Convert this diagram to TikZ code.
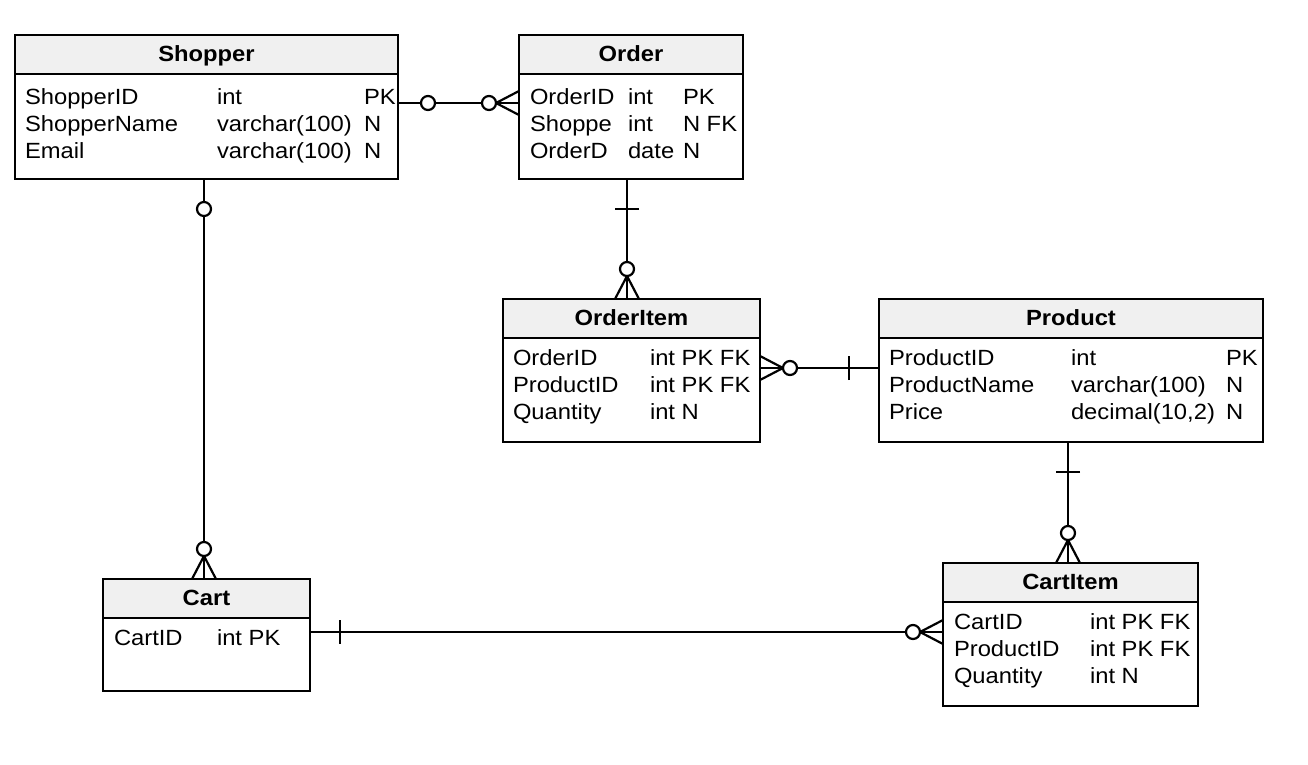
\documentclass[tikz,border=0pt]{standalone}
\usepackage{fontspec}
\setmainfont{Liberation Sans}[FakeStretch=1.08]
\usetikzlibrary{calc}
\tikzset{
  tbl/.style={draw, line width=2.5pt, fill=white, inner sep=0pt, outer sep=0pt, anchor=north west},
  hdrbox/.style={draw, line width=2.5pt, fill=gray!12},
  fld/.style={inner sep=0pt, outer sep=0pt, anchor=base west, font=\fontsize{22}{26}\selectfont},
  ttl/.style={inner sep=0pt, outer sep=0pt, anchor=base, font=\fontsize{22}{26}\selectfont\bfseries},
  conn/.style={line width=2.2pt},
}
\newcommand{\crowmark}[2]{\begin{scope}[shift={(#1)}, rotate=#2]
  \draw[conn] (0,-12) -- (23,0) -- (0,12);
  \draw[conn, fill=white] (30,0) circle[radius=7pt];
\end{scope}}
\newcommand{\tickmark}[2]{\begin{scope}[shift={(#1)}, rotate=#2]
  \draw[conn] (30,-12) -- (30,12);
\end{scope}}
\newcommand{\zeromark}[2]{\begin{scope}[shift={(#1)}, rotate=#2]
  \draw[conn, fill=white] (30,0) circle[radius=7pt];
\end{scope}}
\begin{document}
\begin{tikzpicture}[x=1pt, y=-1pt]
\useasboundingbox (0,0) rectangle (1308,764);

% ---------- tables ----------
\node[tbl, minimum width=383pt, minimum height=144pt] (shopper) at (15,35) {};
\draw[hdrbox] (shopper.north west) rectangle ([yshift=-39pt]shopper.north east);
\node[tbl, minimum width=224pt, minimum height=144pt] (order) at (519,35) {};
\draw[hdrbox] (order.north west) rectangle ([yshift=-39pt]order.north east);
\node[tbl, minimum width=257pt, minimum height=143pt] (orderitem) at (503,299) {};
\draw[hdrbox] (orderitem.north west) rectangle ([yshift=-39pt]orderitem.north east);
\node[tbl, minimum width=384pt, minimum height=143pt] (product) at (879,299) {};
\draw[hdrbox] (product.north west) rectangle ([yshift=-39pt]product.north east);
\node[tbl, minimum width=207pt, minimum height=112pt] (cart) at (103,579) {};
\draw[hdrbox] (cart.north west) rectangle ([yshift=-39pt]cart.north east);
\node[tbl, minimum width=255pt, minimum height=143pt] (cartitem) at (943,563) {};
\draw[hdrbox] (cartitem.north west) rectangle ([yshift=-39pt]cartitem.north east);

% ---------- Shopper ----------
\node[ttl] (shopperT) at (206.5,61) {Shopper};
\node[fld] (s1a) at (25,104.5) {ShopperID};
\node[fld] (s1b) at (217,104.5) {int};
\node[fld] (s1c) at (364,104.5) {PK};
\node[fld] (s2a) at (25,131.5) {ShopperName};
\node[fld] (s2b) at (217,131.5) {varchar(100)};
\node[fld] (s2c) at (364,131.5) {N};
\node[fld] (s3a) at (25,158.5) {Email};
\node[fld] (s3b) at (217,158.5) {varchar(100)};
\node[fld] (s3c) at (364,158.5) {N};

% ---------- Order ----------
\node[ttl] (orderT) at (631,61) {Order};
\node[fld] (o1a) at (530,104.5) {OrderID};
\node[fld] (o1b) at (628,104.5) {int};
\node[fld] (o1c) at (683,104.5) {PK};
\node[fld] (o2a) at (530,131.5) {Shoppe};
\node[fld] (o2b) at (628,131.5) {int};
\node[fld] (o2c) at (683,131.5) {N FK};
\node[fld] (o3a) at (530,158.5) {OrderD};
\node[fld] (o3b) at (628,158.5) {date};
\node[fld] (o3c) at (683,158.5) {N};

% ---------- OrderItem ----------
\node[ttl] (orderitemT) at (631.5,325) {OrderItem};
\node[fld] (oi1a) at (513,365) {OrderID};
\node[fld] (oi1b) at (650,365) {int PK FK};
\node[fld] (oi2a) at (513,392) {ProductID};
\node[fld] (oi2b) at (650,392) {int PK FK};
\node[fld] (oi3a) at (513,419) {Quantity};
\node[fld] (oi3b) at (650,419) {int N};

% ---------- Product ----------
\node[ttl] (productT) at (1071,325) {Product};
\node[fld] (p1a) at (889,365) {ProductID};
\node[fld] (p1b) at (1071,365) {int};
\node[fld] (p1c) at (1226,365) {PK};
\node[fld] (p2a) at (889,392) {ProductName};
\node[fld] (p2b) at (1071,392) {varchar(100)};
\node[fld] (p2c) at (1226,392) {N};
\node[fld] (p3a) at (889,419) {Price};
\node[fld] (p3b) at (1071,419) {decimal(10,2)};
\node[fld] (p3c) at (1226,419) {N};

% ---------- Cart ----------
\node[ttl] (cartT) at (206.5,605) {Cart};
\node[fld] (c1a) at (114,645) {CartID};
\node[fld] (c1b) at (217,645) {int PK};

% ---------- CartItem ----------
\node[ttl] (cartitemT) at (1070.5,589) {CartItem};
\node[fld] (ci1a) at (954,629.5) {CartID};
\node[fld] (ci1b) at (1090,629.5) {int PK FK};
\node[fld] (ci2a) at (954,656.5) {ProductID};
\node[fld] (ci2b) at (1090,656.5) {int PK FK};
\node[fld] (ci3a) at (954,683.5) {Quantity};
\node[fld] (ci3b) at (1090,683.5) {int N};

% ---------- connectors ----------
% Shopper -- Order
\draw[conn] (shopper.east |- 0,103) -- (order.west |- 0,103);
\zeromark{shopper.east |- 0,103}{0}
\crowmark{order.west |- 0,103}{180}
% Shopper -- Cart
\draw[conn] (shopper.south -| 204,0) -- (cart.north -| 204,0);
\zeromark{shopper.south -| 204,0}{270}
\crowmark{cart.north -| 204,0}{90}
% Order -- OrderItem
\draw[conn] (order.south -| 627,0) -- (orderitem.north -| 627,0);
\tickmark{order.south -| 627,0}{270}
\crowmark{orderitem.north -| 627,0}{90}
% OrderItem -- Product
\draw[conn] (orderitem.east |- 0,368) -- (product.west |- 0,368);
\crowmark{orderitem.east |- 0,368}{0}
\tickmark{product.west |- 0,368}{180}
% Product -- CartItem
\draw[conn] (product.south -| 1068,0) -- (cartitem.north -| 1068,0);
\tickmark{product.south -| 1068,0}{270}
\crowmark{cartitem.north -| 1068,0}{90}
% Cart -- CartItem
\draw[conn] (cart.east |- 0,632) -- (cartitem.west |- 0,632);
\tickmark{cart.east |- 0,632}{0}
\crowmark{cartitem.west |- 0,632}{180}
\end{tikzpicture}
\end{document}
